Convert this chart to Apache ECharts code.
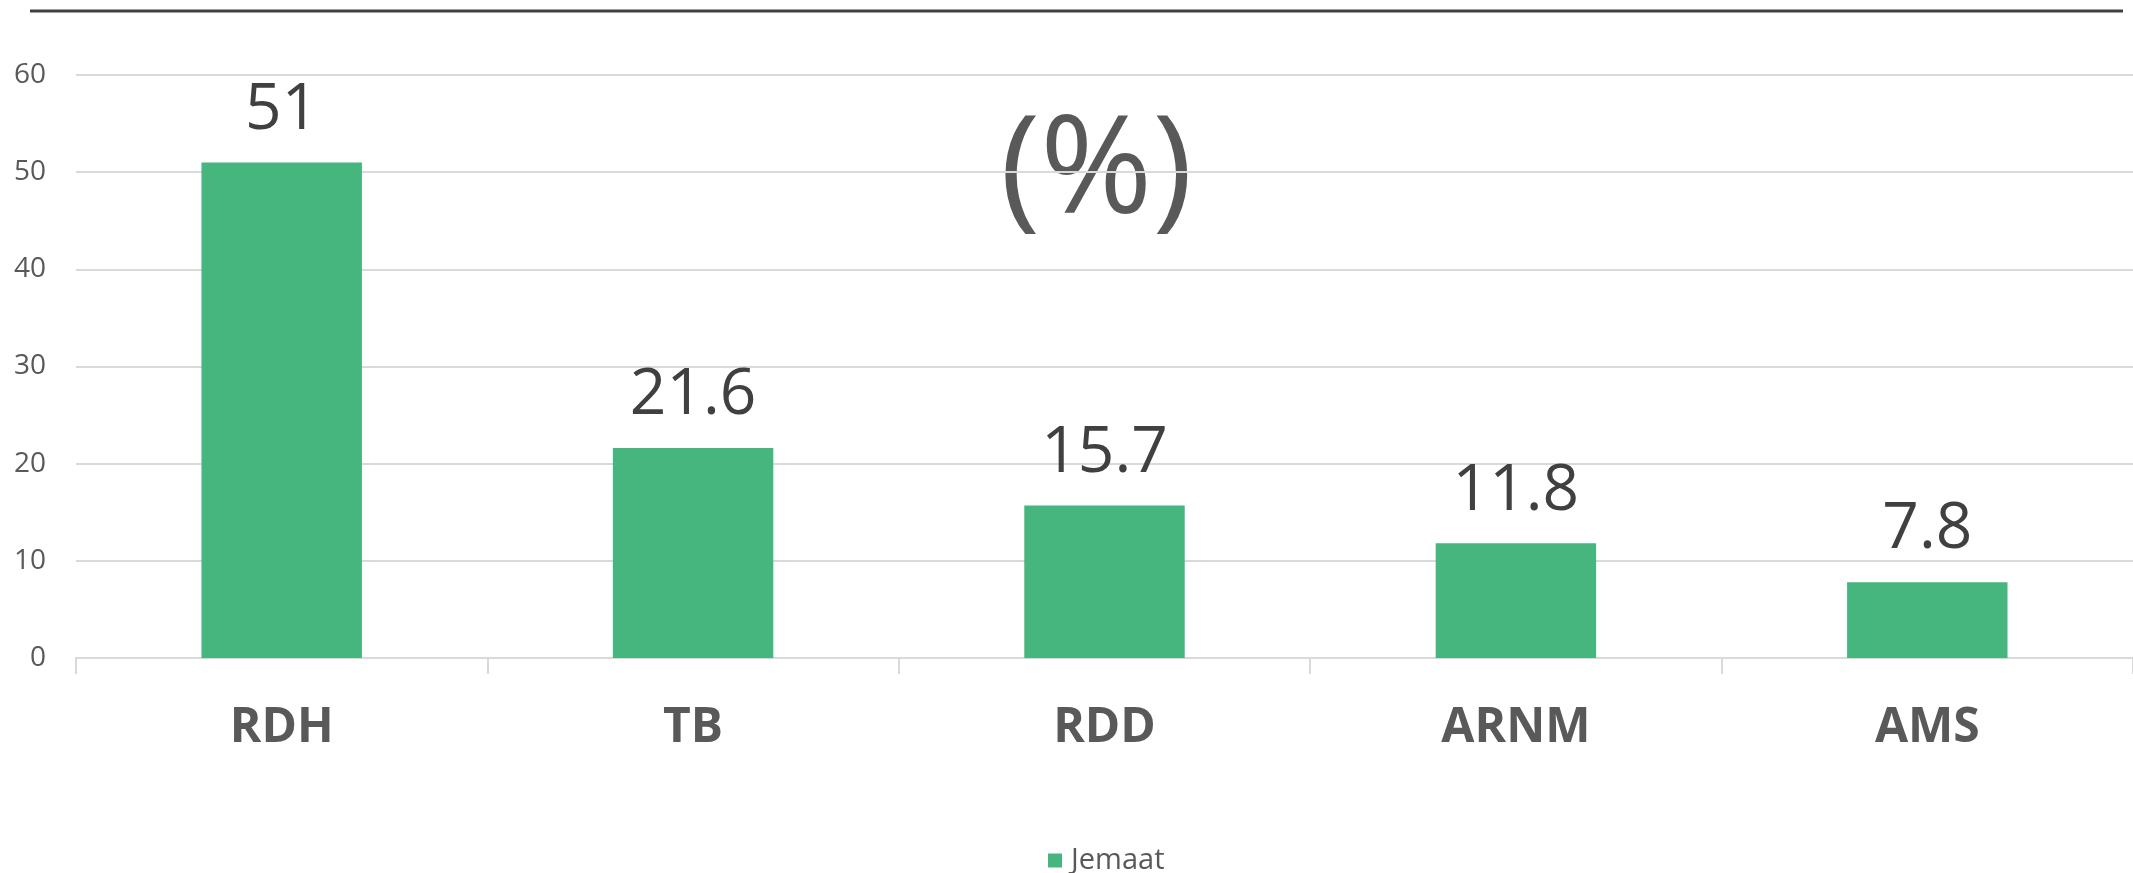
<!DOCTYPE html>
<html>
<head>
<meta charset="utf-8">
<script src="https://cdn.jsdelivr.net/npm/echarts@6/dist/echarts.min.js"></script>
<style>
  html, body { margin: 0; padding: 0; background: #fff; }
  #chart { width: 2133px; height: 873px; }
</style>
</head>
<body>
<div id="chart"></div>
<script>
// data
var categories = ['RDH', 'TB', 'RDD', 'ARNM', 'AMS'];
var jemaat = [51, 21.6, 15.7, 11.8, 7.8];
var seriesName = 'Jemaat';

var font = 'Open Sans';

var chart = echarts.init(document.getElementById('chart'));
chart.setOption({
  animation: false,
  textStyle: { fontFamily: font },
  grid: {
    left: 76,
    right: -13,   // plot runs past the right edge, like the cropped original
    top: 75,
    bottom: 215
  },
  // the "(%)" in the middle and the dark rule on top
  graphic: [
    {
      type: 'line',
      shape: { x1: 30, y1: 11, x2: 2123, y2: 11 },
      style: { stroke: '#404040', lineWidth: 3 }
    },
    {
      type: 'text',
      left: 1100 - 100,
      top: 106,
      style: {
        text: '(%)',
        font: '136px "Open Sans"',
        fill: '#595959',
        width: 200,
        textAlign: 'center'
      }
    }
  ],
  legend: {
    bottom: -7,
    left: 1043,
    icon: 'rect',
    itemWidth: 14,
    itemHeight: 14,
    itemGap: 10,
    textStyle: { fontSize: 29, color: '#595959', fontFamily: font, padding: [0, 0, 0, 4] },
    data: [seriesName]
  },
  xAxis: {
    type: 'category',
    data: categories,
    axisLine: { lineStyle: { color: '#d9d9d9', width: 2 } },
    axisTick: { show: true, length: 16, lineStyle: { color: '#d9d9d9', width: 2 } },
    axisLabel: {
      margin: 46,
      fontSize: 48,
      fontWeight: 'bold',
      color: '#595959',
      fontFamily: font
    }
  },
  yAxis: {
    type: 'value',
    min: 0,
    max: 60,
    interval: 10,
    axisLine: { show: false },
    axisTick: { show: false },
    splitLine: { lineStyle: { color: '#d9d9d9', width: 2 } },
    axisLabel: {
      margin: 30,
      fontSize: 28,
      color: '#595959',
      fontFamily: font
    }
  },
  series: [
    {
      name: seriesName,
      type: 'bar',
      data: jemaat,
      barWidth: '39%',
      itemStyle: { color: '#46b67e' },
      label: {
        show: true,
        position: 'top',
        distance: 20,
        fontSize: 64,
        color: '#404040',
        fontFamily: font
      }
    }
  ]
});
</script>
</body>
</html>
